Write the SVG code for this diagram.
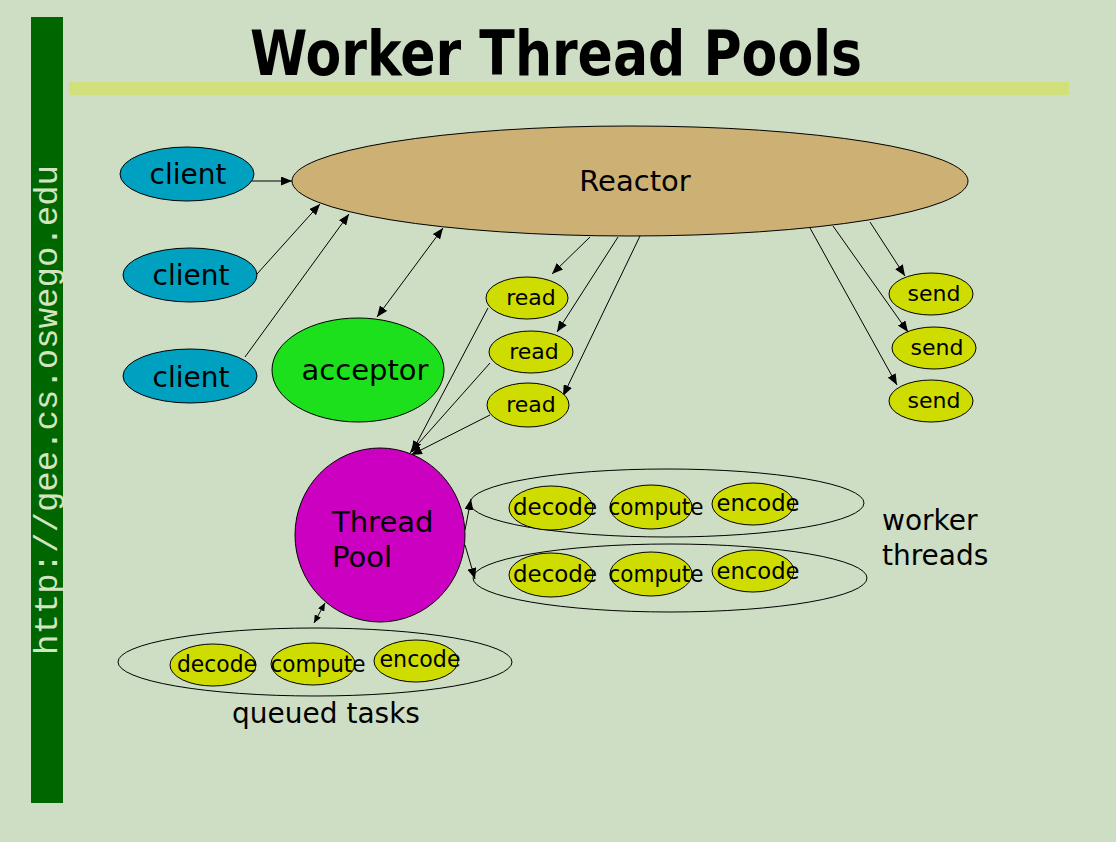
<svg xmlns="http://www.w3.org/2000/svg" width="1116" height="842" viewBox="0 0 1116 842">
  <defs>
    <marker id="arrow" viewBox="0 0 11 9" refX="11" refY="4.5" markerWidth="11" markerHeight="9" markerUnits="userSpaceOnUse" orient="auto-start-reverse">
      <path d="M0,0 L11,4.5 L0,9 z" fill="#000"/>
    </marker>
    <marker id="arrow-sm" viewBox="0 0 8 7" refX="8" refY="3.5" markerWidth="8" markerHeight="7" markerUnits="userSpaceOnUse" orient="auto-start-reverse">
      <path d="M0,0 L8,3.5 L0,7 z" fill="#000"/>
    </marker>
    <style>
      .node { stroke: #000; stroke-width: 1; }
      .client { fill: #00A0C0; }
      .task { fill: #CEDC00; }
      .group { fill: none; stroke: #000; stroke-width: 1; }
      .lbl { font-family: "DejaVu Sans", "Liberation Sans", sans-serif; fill: #000; }
      .big { font-size: 28px; }
      .mid { font-size: 22px; text-anchor: middle; }
      .tk { font-size: 23px; text-anchor: middle; }
      .conn line { stroke: #000; stroke-width: 1; fill: none; }
      .one { marker-end: url(#arrow); }
      .two { marker-start: url(#arrow); marker-end: url(#arrow); }
      .two-sm { marker-start: url(#arrow-sm); marker-end: url(#arrow-sm); }
    </style>
  </defs>

  <!-- page background -->
  <rect x="0" y="0" width="1116" height="842" fill="#CEDEC4"/>

  <!-- side banner with URL -->
  <rect x="31" y="17" width="32" height="786" fill="#006600"/>
  <text transform="translate(57,655) rotate(-90)" font-family="'Liberation Mono', 'Courier New', monospace" font-size="34" fill="#D2E4C0" textLength="490" lengthAdjust="spacingAndGlyphs">http://gee.cs.oswego.edu</text>

  <!-- title and rule -->
  <text x="250" y="75" font-family="DejaVu Sans, Liberation Sans, sans-serif" font-weight="bold" font-size="62" fill="#000" textLength="612" lengthAdjust="spacingAndGlyphs">Worker Thread Pools</text>
  <rect x="69" y="82" width="1000" height="13" fill="#D1E07A"/>

  <!-- connectors -->
  <g id="connectors" class="conn">
    <line class="one" x1="243" y1="181" x2="292" y2="181"/>
    <line class="one" x1="257" y1="274" x2="320" y2="204"/>
    <line class="one" x1="245" y1="357" x2="349" y2="214"/>
    <line class="two" x1="377" y1="317" x2="443" y2="228"/>
    <line class="one" x1="590" y1="237" x2="552" y2="274"/>
    <line class="one" x1="618" y1="237" x2="557" y2="332"/>
    <line class="one" x1="640" y1="236" x2="563" y2="396"/>
    <line class="one" x1="870" y1="222" x2="905" y2="276"/>
    <line class="one" x1="833" y1="226" x2="908" y2="332"/>
    <line class="one" x1="810" y1="228" x2="897" y2="385"/>
    <line class="one" x1="488" y1="308" x2="412" y2="452"/>
    <line class="one" x1="490" y1="363" x2="410" y2="453"/>
    <line class="one" x1="490" y1="415" x2="411" y2="455"/>
    <line class="one" x1="465" y1="530" x2="471" y2="499"/>
    <line class="one" x1="465" y1="545" x2="475" y2="579"/>
    <line class="two-sm" x1="314" y1="623" x2="325" y2="603"/>
  </g>

  <g id="reactor">
    <ellipse class="node" cx="630" cy="181" rx="338" ry="55" fill="#CCB074"/>
    <text class="lbl" x="635" y="191" font-size="29" text-anchor="middle">Reactor</text>
  </g>

  <g id="client1">
    <ellipse class="node client" cx="187" cy="174" rx="67" ry="27"/>
    <text class="lbl big" x="188" y="184" text-anchor="middle">client</text>
  </g>
  <g id="client2">
    <ellipse class="node client" cx="190" cy="275" rx="67" ry="27"/>
    <text class="lbl big" x="191" y="285" text-anchor="middle">client</text>
  </g>
  <g id="client3">
    <ellipse class="node client" cx="190" cy="376" rx="67" ry="27"/>
    <text class="lbl big" x="191" y="387" text-anchor="middle">client</text>
  </g>

  <g id="acceptor">
    <ellipse class="node" cx="358" cy="370" rx="86" ry="52" fill="#1CE01C"/>
    <text class="lbl" x="365" y="380" font-size="29" text-anchor="middle">acceptor</text>
  </g>

  <g id="read1">
    <ellipse class="node task" cx="527" cy="298" rx="41" ry="21"/>
    <text class="lbl mid" x="531" y="305">read</text>
  </g>
  <g id="read2">
    <ellipse class="node task" cx="531" cy="352" rx="42" ry="21"/>
    <text class="lbl mid" x="534" y="359">read</text>
  </g>
  <g id="read3">
    <ellipse class="node task" cx="528" cy="405" rx="41" ry="22"/>
    <text class="lbl mid" x="531" y="412">read</text>
  </g>

  <g id="send1">
    <ellipse class="node task" cx="931" cy="294" rx="42" ry="21"/>
    <text class="lbl mid" x="934" y="301">send</text>
  </g>
  <g id="send2">
    <ellipse class="node task" cx="934" cy="348" rx="42" ry="21"/>
    <text class="lbl mid" x="937" y="355">send</text>
  </g>
  <g id="send3">
    <ellipse class="node task" cx="931" cy="401" rx="42" ry="21"/>
    <text class="lbl mid" x="934" y="408">send</text>
  </g>

  <g id="thread-pool">
    <ellipse class="node" cx="380" cy="535" rx="85" ry="87" fill="#CC00C0"/>
    <text class="lbl" x="332" y="532" font-size="29">Thread</text>
    <text class="lbl" x="332" y="567" font-size="29">Pool</text>
  </g>

  <g id="worker1">
    <ellipse class="group" cx="667" cy="503" rx="197" ry="34"/>
    <ellipse class="node task" cx="551" cy="508" rx="42" ry="22"/>
    <ellipse class="node task" cx="651" cy="507" rx="41" ry="22"/>
    <ellipse class="node task" cx="753" cy="504" rx="41" ry="21"/>
    <text class="lbl tk" x="555" y="515" textLength="84" lengthAdjust="spacingAndGlyphs">decode</text>
    <text class="lbl tk" x="656" y="515" textLength="95" lengthAdjust="spacingAndGlyphs">compute</text>
    <text class="lbl tk" x="758" y="511" textLength="83" lengthAdjust="spacingAndGlyphs">encode</text>
  </g>
  <g id="worker2">
    <ellipse class="group" cx="670" cy="578" rx="197" ry="34"/>
    <ellipse class="node task" cx="551" cy="575" rx="42" ry="22"/>
    <ellipse class="node task" cx="651" cy="574" rx="41" ry="22"/>
    <ellipse class="node task" cx="753" cy="571" rx="41" ry="21"/>
    <text class="lbl tk" x="555" y="582" textLength="84" lengthAdjust="spacingAndGlyphs">decode</text>
    <text class="lbl tk" x="656" y="582" textLength="95" lengthAdjust="spacingAndGlyphs">compute</text>
    <text class="lbl tk" x="758" y="579" textLength="83" lengthAdjust="spacingAndGlyphs">encode</text>
  </g>
  <g id="worker-label">
    <text class="lbl big" x="882" y="530">worker</text>
    <text class="lbl big" x="882" y="565">threads</text>
  </g>

  <g id="queue">
    <ellipse class="group" cx="315" cy="662" rx="197" ry="34"/>
    <ellipse class="node task" cx="213" cy="665" rx="43" ry="21"/>
    <ellipse class="node task" cx="313" cy="664" rx="42" ry="21"/>
    <ellipse class="node task" cx="416" cy="661" rx="42" ry="21"/>
    <text class="lbl tk" x="217" y="672" textLength="80" lengthAdjust="spacingAndGlyphs">decode</text>
    <text class="lbl tk" x="318" y="672" textLength="95" lengthAdjust="spacingAndGlyphs">compute</text>
    <text class="lbl tk" x="420" y="667" textLength="81" lengthAdjust="spacingAndGlyphs">encode</text>
    <text class="lbl big" x="326" y="723" text-anchor="middle">queued tasks</text>
  </g>
</svg>
